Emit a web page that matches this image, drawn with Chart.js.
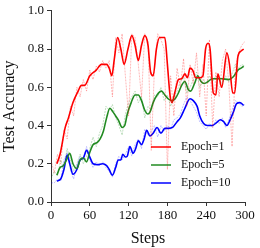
<!DOCTYPE html>
<html>
<head>
<meta charset="utf-8">
<script src="https://cdn.jsdelivr.net/npm/chart.js@4.4.0/dist/chart.umd.min.js"></script>
<style>
  html, body { margin: 0; padding: 0; background: #fff; }
  #wrap { width: 260px; height: 248px; }
</style>
</head>
<body>
<div id="wrap"><canvas id="myCanvas" width="260" height="248"></canvas></div>
<script>
const seriesLabels = ['Epoch=1', 'Epoch=5', 'Epoch=10'];
const xTicks = [0, 60, 120, 180, 240, 300];
const yTicks = [0.0, 0.2, 0.4, 0.6, 0.8, 1.0];

// smoothed curves (key points)
const redSteps = [9, 14, 22, 27, 34, 42, 47, 52, 60, 70, 78, 86, 90, 94, 98, 103, 108, 113, 119, 125, 130, 135, 140, 145, 150, 154, 158, 163, 168, 176, 180, 184, 187, 192, 197, 202, 207, 211, 215, 219, 224, 230, 235, 239, 243, 246, 251, 255, 258, 264, 272, 276, 281, 284, 289, 294, 298];
const redVals  = [0.20, 0.25, 0.39, 0.44, 0.52, 0.58, 0.61, 0.61, 0.66, 0.69, 0.72, 0.72, 0.70, 0.66, 0.75, 0.86, 0.80, 0.72, 0.80, 0.87, 0.82, 0.74, 0.82, 0.87, 0.82, 0.68, 0.66, 0.80, 0.86, 0.86, 0.72, 0.56, 0.52, 0.58, 0.64, 0.645, 0.67, 0.65, 0.70, 0.69, 0.65, 0.65, 0.66, 0.80, 0.83, 0.80, 0.57, 0.56, 0.67, 0.60, 0.78, 0.72, 0.57, 0.57, 0.76, 0.79, 0.80];

const greenSteps = [9, 14, 19, 24, 29, 34, 40, 45, 50, 55, 60, 65, 71, 76, 81, 86, 91, 96, 100, 104, 110, 114, 118, 124, 130, 135, 140, 145, 150, 153, 158, 164, 171, 176, 181, 187, 192, 197, 202, 207, 212, 216, 222, 227, 232, 237, 243, 249, 256, 264, 274, 282, 289, 294, 298];
const greenVals  = [0.14, 0.18, 0.19, 0.22, 0.255, 0.20, 0.175, 0.22, 0.23, 0.21, 0.26, 0.30, 0.31, 0.33, 0.37, 0.44, 0.49, 0.47, 0.45, 0.43, 0.39, 0.40, 0.46, 0.52, 0.56, 0.56, 0.53, 0.48, 0.46, 0.47, 0.52, 0.56, 0.58, 0.56, 0.54, 0.53, 0.54, 0.57, 0.61, 0.63, 0.59, 0.58, 0.62, 0.66, 0.63, 0.62, 0.63, 0.645, 0.645, 0.645, 0.64, 0.655, 0.69, 0.70, 0.71];

const blueSteps = [9, 15, 20, 25, 29, 34, 40, 45, 50, 55, 60, 65, 72, 80, 86, 90, 95, 100, 104, 108, 111, 115, 118, 122, 127, 131, 135, 140, 144, 148, 153, 158, 164, 170, 176, 182, 188, 195, 200, 207, 215, 220, 226, 230, 236, 242, 249, 256, 262, 267, 272, 277, 282, 287, 292, 298];
const blueVals  = [0.11, 0.12, 0.17, 0.245, 0.20, 0.145, 0.17, 0.22, 0.23, 0.27, 0.235, 0.20, 0.195, 0.20, 0.19, 0.17, 0.14, 0.18, 0.22, 0.22, 0.25, 0.235, 0.24, 0.29, 0.255, 0.28, 0.32, 0.30, 0.33, 0.375, 0.345, 0.36, 0.39, 0.36, 0.385, 0.385, 0.39, 0.42, 0.44, 0.49, 0.54, 0.53, 0.50, 0.45, 0.41, 0.40, 0.40, 0.415, 0.43, 0.42, 0.40, 0.43, 0.47, 0.515, 0.52, 0.505];

// raw noisy curves, every 5 steps
const rawSteps = [0, 5, 10, 15, 20, 25, 30, 35, 40, 45, 50, 55, 60, 65, 70, 75, 80, 85, 90, 95, 100, 105, 110, 115, 120, 125, 130, 135, 140, 145, 150, 155, 160, 165, 170, 175, 180, 185, 190, 195, 200, 205, 210, 215, 220, 225, 230, 235, 240, 245, 250, 255, 260, 265, 270, 275, 280, 285, 290, 295, 300];
const rawRed   = [0.22, 0.15, 0.25, 0.20, 0.38, 0.33, 0.50, 0.45, 0.60, 0.55, 0.64, 0.58, 0.69, 0.64, 0.71, 0.68, 0.74, 0.70, 0.74, 0.55, 0.86, 0.78, 0.88, 0.66, 0.45, 0.88, 0.86, 0.72, 0.55, 0.88, 0.84, 0.27, 0.70, 0.88, 0.85, 0.80, 0.17, 0.66, 0.45, 0.70, 0.60, 0.75, 0.50, 0.72, 0.62, 0.78, 0.55, 0.72, 0.45, 0.85, 0.39, 0.68, 0.55, 0.74, 0.80, 0.62, 0.29, 0.70, 0.78, 0.82, 0.84];
const rawGreen = [0.12, 0.16, 0.14, 0.22, 0.17, 0.28, 0.22, 0.16, 0.20, 0.25, 0.20, 0.24, 0.28, 0.34, 0.29, 0.36, 0.40, 0.50, 0.48, 0.51, 0.44, 0.40, 0.35, 0.46, 0.52, 0.55, 0.58, 0.52, 0.55, 0.44, 0.50, 0.48, 0.56, 0.55, 0.60, 0.53, 0.56, 0.50, 0.55, 0.58, 0.63, 0.65, 0.57, 0.60, 0.64, 0.68, 0.60, 0.64, 0.62, 0.66, 0.63, 0.66, 0.64, 0.62, 0.66, 0.63, 0.67, 0.72, 0.70, 0.72, 0.71];
const rawBlue  = [0.10, 0.10, 0.12, 0.11, 0.22, 0.26, 0.17, 0.12, 0.19, 0.24, 0.22, 0.29, 0.22, 0.18, 0.21, 0.19, 0.21, 0.18, 0.16, 0.13, 0.20, 0.24, 0.22, 0.25, 0.29, 0.24, 0.30, 0.33, 0.28, 0.38, 0.35, 0.37, 0.40, 0.34, 0.40, 0.37, 0.40, 0.38, 0.43, 0.44, 0.46, 0.51, 0.55, 0.53, 0.50, 0.47, 0.42, 0.40, 0.38, 0.41, 0.39, 0.43, 0.41, 0.44, 0.39, 0.43, 0.48, 0.53, 0.52, 0.50, 0.51];

const colors = ['#ff0000', '#228b22', '#0000ff'];
const rawColors = ['rgba(255,0,0,0.28)', 'rgba(34,139,34,0.28)', 'rgba(0,0,255,0.25)'];

const pts = (xs, ys) => xs.map((x, i) => ({ x: x, y: ys[i] }));

const rawSet = (vals, c) => ({
    label: '',
    data: pts(rawSteps, vals),
    borderColor: c,
    borderWidth: 1,
    borderDash: [2, 1],
    pointRadius: 0,
    fill: false,
    tension: 0,
});
const smoothSet = (label, xs, ys, c) => ({
    label: label,
    data: pts(xs, ys),
    borderColor: c,
    borderWidth: 1.6,
    pointRadius: 0,
    fill: false,
    cubicInterpolationMode: 'monotone',
});

// legend drawn inside the plot, lower right
const insideLegend = {
    id: 'insideLegend',
    afterDatasetsDraw(chart) {
        const { ctx, chartArea } = chart;
        ctx.save();
        ctx.font = '12px "Liberation Serif"';
        ctx.textBaseline = 'middle';
        ctx.fillStyle = '#111';
        const rows = [-55, -37, -19];
        seriesLabels.forEach((lab, i) => {
            const y = chartArea.bottom + rows[i];
            ctx.strokeStyle = colors[i];
            ctx.lineWidth = 1.5;
            ctx.beginPath();
            ctx.moveTo(chartArea.right - 94, y);
            ctx.lineTo(chartArea.right - 74, y);
            ctx.stroke();
            ctx.fillText(lab, chartArea.right - 64, y);
        });
        ctx.restore();
    }
};

const ctx = document.getElementById('myCanvas').getContext('2d');

const myChart = new Chart(ctx, {
    type: 'line',
    data: {
        datasets: [
            rawSet(rawRed, rawColors[0]),
            rawSet(rawGreen, rawColors[1]),
            rawSet(rawBlue, rawColors[2]),
            smoothSet(seriesLabels[0], redSteps, redVals, colors[0]),
            smoothSet(seriesLabels[1], greenSteps, greenVals, colors[1]),
            smoothSet(seriesLabels[2], blueSteps, blueVals, colors[2]),
        ]
    },
    plugins: [insideLegend],
    options: {
        responsive: false,
        animation: false,
        layout: { padding: { top: 10, right: 15, left: 0, bottom: 0 } },
        plugins: {
            legend: { display: false },
            tooltip: { enabled: false },
        },
        scales: {
            x: {
                type: 'linear',
                min: 0,
                max: 300,
                afterBuildTicks: (s) => { s.ticks = xTicks.map(v => ({ value: v })); },
                afterFit: (s) => { s.height = 46; },
                grid: { drawOnChartArea: false, tickLength: 4, color: '#333' },
                border: { color: '#333', width: 1 },
                ticks: {
                    color: '#111',
                    padding: 2,
                    maxRotation: 0,
                    font: { family: 'Liberation Serif', size: 13 },
                },
                title: {
                    display: true,
                    text: 'Steps',
                    color: '#111',
                    padding: { top: 2, bottom: 0 },
                    font: { family: 'Liberation Serif', size: 16 },
                },
            },
            y: {
                min: 0,
                max: 1,
                afterBuildTicks: (s) => { s.ticks = yTicks.map(v => ({ value: v })); },
                afterFit: (s) => { s.width = 51; },
                grid: { drawOnChartArea: false, tickLength: 4, color: '#333' },
                border: { color: '#333', width: 1 },
                ticks: {
                    color: '#111',
                    padding: 3,
                    font: { family: 'Liberation Serif', size: 13 },
                    callback: (v) => Number(v).toFixed(1),
                },
                title: {
                    display: true,
                    text: 'Test Accuracy',
                    color: '#111',
                    padding: { top: 0, bottom: 2 },
                    font: { family: 'Liberation Serif', size: 16 },
                },
            }
        }
    }
});
</script>
</body>
</html>
